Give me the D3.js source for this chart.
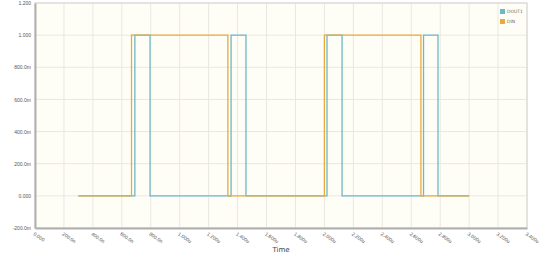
<!DOCTYPE html>
<html>
<head>
<meta charset="utf-8">
<script src="https://cdn.jsdelivr.net/npm/d3@7"></script>
<style>
  body { margin: 0; background: #ffffff; }
  svg { font-family: "DejaVu Sans", sans-serif; }
</style>
</head>
<body>
<div id="chart"></div>
<script>
// time axis ticks (seconds) and their labels
var xTicks = [0, 200e-9, 400e-9, 600e-9, 800e-9, 1.0e-6, 1.2e-6, 1.4e-6, 1.6e-6, 1.8e-6,
              2.0e-6, 2.2e-6, 2.4e-6, 2.6e-6, 2.8e-6, 3.0e-6, 3.2e-6, 3.4e-6];
var xTickLabels = ["0.000", "200.0n", "400.0n", "600.0n", "800.0n", "1.000u", "1.200u", "1.400u",
                   "1.600u", "1.800u", "2.000u", "2.200u", "2.400u", "2.600u", "2.800u",
                   "3.000u", "3.200u", "3.400u"];
var yTicks = [-0.2, 0, 0.2, 0.4, 0.6, 0.8, 1.0, 1.2];
var yTickLabels = ["-200.0m", "0.000", "200.0m", "400.0m", "600.0m", "800.0m", "1.000", "1.200"];

// step waveforms: times of level changes and levels
var dinTimes  = [0.30e-6, 0.667e-6, 1.333e-6, 2.0e-6, 2.667e-6, 3.0e-6];
var dinLevels = [0, 1, 0, 1, 0, 0];
var doutTimes  = [0.30e-6, 0.69e-6, 0.795e-6, 1.355e-6, 1.458e-6, 2.018e-6, 2.122e-6, 2.685e-6, 2.785e-6, 3.0e-6];
var doutLevels = [0, 1, 0, 1, 0, 1, 0, 1, 0, 0];

var seriesNames = ["DOUT1", "DIN"];
var seriesColors = ["#6cb8c6", "#eba93c"];

var svgWidth = 540, svgHeight = 258;
var margin = {top: 3, right: 13, bottom: 30, left: 35};
var chartWidth = svgWidth - margin.left - margin.right;
var chartHeight = svgHeight - margin.top - margin.bottom;

var svg = d3.select("#chart").append("svg")
  .attr("width", svgWidth)
  .attr("height", svgHeight);

var g = svg.append("g")
  .attr("transform", `translate(${margin.left}, ${margin.top})`);

var xScale = d3.scaleLinear().domain([0, 3.4e-6]).range([0, chartWidth]);
var yScale = d3.scaleLinear().domain([-0.2, 1.2]).range([chartHeight, 0]);

// plot background
g.append("rect")
  .attr("width", chartWidth)
  .attr("height", chartHeight)
  .attr("fill", "#fffef6");

// grid
g.selectAll(".vgrid").data(xTicks).enter().append("line")
  .attr("x1", d => xScale(d)).attr("x2", d => xScale(d))
  .attr("y1", 0).attr("y2", chartHeight)
  .attr("stroke", "#e8e7e2").attr("stroke-width", 1);
g.selectAll(".hgrid").data(yTicks).enter().append("line")
  .attr("y1", d => yScale(d)).attr("y2", d => yScale(d))
  .attr("x1", 0).attr("x2", chartWidth)
  .attr("stroke", "#e8e7e2").attr("stroke-width", 1);

// frame
g.append("rect")
  .attr("width", chartWidth)
  .attr("height", chartHeight)
  .attr("fill", "none")
  .attr("stroke", "#d4d4d4");

// x axis
var xAxis = d3.axisBottom(xScale)
  .tickValues(xTicks)
  .tickFormat((d, i) => xTickLabels[i])
  .tickSize(0);
var gx = g.append("g")
  .attr("transform", `translate(0, ${chartHeight})`)
  .call(xAxis);
gx.select(".domain").attr("stroke", "#b0b0b0").attr("stroke-width", 2);
gx.selectAll("text")
  .attr("font-size", 5)
  .attr("fill", "#555")
  .attr("text-anchor", "start")
  .attr("transform", "translate(0,3) rotate(35)")
  .attr("dy", "0.3em");

// y axis
var yAxis = d3.axisLeft(yScale)
  .tickValues(yTicks)
  .tickFormat((d, i) => yTickLabels[i])
  .tickSize(0)
  .tickPadding(4);
var gy = g.append("g").call(yAxis);
gy.select(".domain").attr("stroke", "#b0b0b0").attr("stroke-width", 2);
gy.selectAll("text")
  .attr("font-size", 5)
  .attr("fill", "#555");

// axis title
g.append("text")
  .attr("x", xScale(1.7e-6))
  .attr("y", chartHeight + 24)
  .attr("text-anchor", "middle")
  .attr("font-size", 7)
  .attr("fill", "#444")
  .text("Time");

// waveforms
var line = d3.line()
  .x(d => xScale(d.t))
  .y(d => yScale(d.v))
  .curve(d3.curveStepAfter);

var doutData = doutTimes.map((t, i) => ({t: t, v: doutLevels[i]}));
var dinData = dinTimes.map((t, i) => ({t: t, v: dinLevels[i]}));

g.append("path")
  .datum(doutData)
  .attr("d", line)
  .attr("fill", "none")
  .attr("stroke", seriesColors[0])
  .attr("stroke-width", 1.3);

g.append("path")
  .datum(dinData)
  .attr("d", line)
  .attr("fill", "none")
  .attr("stroke", seriesColors[1])
  .attr("stroke-width", 1.3);

// legend
var legend = g.append("g")
  .attr("transform", `translate(${chartWidth - 27}, 6)`);
seriesNames.forEach(function(name, i) {
  legend.append("rect")
    .attr("x", 0).attr("y", i * 10)
    .attr("width", 5).attr("height", 5)
    .attr("fill", seriesColors[i]);
  legend.append("text")
    .attr("x", 7).attr("y", i * 10 + 4)
    .attr("font-size", 4.5)
    .attr("fill", "#666")
    .text(name);
});
</script>
</body>
</html>
